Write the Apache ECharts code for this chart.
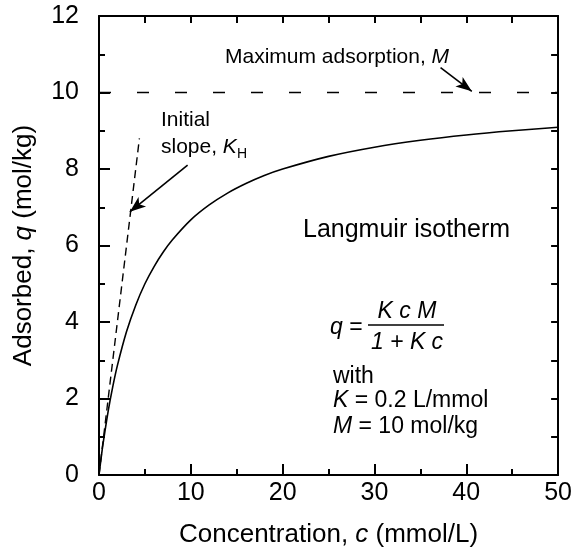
<!DOCTYPE html>
<html lang="en">
<head>
<meta charset="UTF-8">
<title>Langmuir isotherm</title>
<script src="https://cdn.jsdelivr.net/npm/echarts@6/dist/echarts.min.js"></script>
<style>
    html, body { margin: 0; padding: 0; background: #fff; }
    #chart { width: 575px; height: 553px; }
</style>
</head>
<body>
<div id="chart"></div>
<script>
    // ---- values ----
    var concList = [0, 0.25, 0.5, 1, 1.5, 2, 3, 4, 5, 6, 7, 8, 10, 12, 14, 16, 18, 20, 25, 30, 35, 40, 45, 50];
    var qList    = [0, 0.48, 0.91, 1.67, 2.31, 2.86, 3.75, 4.44, 5.0, 5.45, 5.83, 6.15, 6.67, 7.06, 7.37, 7.62, 7.83, 8.0, 8.33, 8.57, 8.75, 8.89, 9.0, 9.09];
    var maxLine   = [[0, 10], [50, 10]];        // maximum adsorption M
    var slopeLine = [[0, 0], [4.4, 8.8]];       // initial slope K_H
    var arrowMax   = [[37.2, 10.65], [40.6, 10.03]];
    var arrowSlope = [[9.65, 8.1], [3.36, 6.88]];

    var FONT = 'Liberation Sans, Arial, sans-serif';
    var chart = echarts.init(document.getElementById('chart'));

    var curve = [];
    for (var i = 0; i < concList.length; i++) curve.push([concList[i], qList[i]]);

    var blk = { color: '#000', width: 2 };
    var italic = { fontStyle: 'italic', fontFamily: FONT, fontSize: 26, color: '#000' };

    var option = {
        animation: false,
        grid: { left: 99, right: 15, top: 16, bottom: 75 },
        xAxis: [
            {
                type: 'value', position: 'bottom', min: 0, max: 50, interval: 10,
                axisLine: { onZero: false, lineStyle: blk },
                axisTick: { inside: true, length: 11, lineStyle: blk },
                minorTick: { show: true, splitNumber: 2, length: 6, lineStyle: blk },
                axisLabel: { color: '#000', fontSize: 25, fontFamily: FONT, margin: 6 },
                splitLine: { show: false },
                name: 'Concentration, {i|c} (mmol/L)', nameLocation: 'middle', nameGap: 47,
                nameTextStyle: { color: '#000', fontSize: 26, fontFamily: FONT, rich: { i: italic } }
            },
            {
                type: 'value', position: 'top', min: 0, max: 50, interval: 5,
                axisLine: { onZero: false, lineStyle: blk },
                axisTick: { inside: true, length: 7, lineStyle: blk },
                axisLabel: { show: false },
                splitLine: { show: false }
            }
        ],
        yAxis: [
            {
                type: 'value', position: 'left', min: 0, max: 12, interval: 2,
                axisLine: { onZero: false, lineStyle: blk },
                axisTick: { inside: true, length: 11, lineStyle: blk },
                minorTick: { show: true, splitNumber: 2, length: 6, lineStyle: blk },
                axisLabel: { color: '#000', fontSize: 25, fontFamily: FONT, margin: 20 },
                splitLine: { show: false },
                name: 'Adsorbed, {i|q} (mol/kg)', nameLocation: 'middle', nameGap: 62,
                nameTextStyle: { color: '#000', fontSize: 26, fontFamily: FONT, rich: { i: italic } }
            },
            {
                type: 'value', position: 'right', min: 0, max: 12, interval: 1,
                axisLine: { onZero: false, lineStyle: blk },
                axisTick: { inside: true, length: 7, lineStyle: blk },
                axisLabel: { show: false },
                splitLine: { show: false }
            }
        ],
        series: [
            {
                name: 'isotherm', type: 'line', data: curve, smooth: 0.3,
                showSymbol: false, lineStyle: { color: '#000', width: 1.6 }
            },
            {
                name: 'M', type: 'line', data: maxLine, showSymbol: false,
                lineStyle: { color: '#000', width: 1.6, type: [12, 26] }
            },
            {
                name: 'KH', type: 'line', data: slopeLine, showSymbol: false,
                lineStyle: { color: '#000', width: 1.4, type: [8, 5] }
            },
            {
                name: 'arrows', type: 'line', data: [],
                markLine: {
                    silent: true, animation: false,
                    symbol: ['none', 'arrow'], symbolSize: [9, 16],
                    label: { show: false },
                    lineStyle: { color: '#000', width: 1.6, type: 'solid' },
                    data: [
                        [{ coord: arrowMax[0] }, { coord: arrowMax[1] }],
                        [{ coord: arrowSlope[0] }, { coord: arrowSlope[1] }]
                    ]
                }
            }
        ]
    };
    chart.setOption(option);

    // ---- annotations ----
    var ctx = document.createElement('canvas').getContext('2d');
    function textW(str, size, style) {
        ctx.font = (style || '') + ' ' + size + 'px ' + FONT;
        return ctx.measureText(str).width;
    }
    function txt(str, x, y, size, align, rich) {
        return {
            type: 'text', x: x, y: y, silent: true,
            style: {
                text: str, fill: '#000', fontSize: size, fontFamily: FONT,
                align: align || 'left', verticalAlign: 'middle',
                rich: rich || {}
            }
        };
    }
    function rich(size) {
        return { i: { fontStyle: 'italic', fontSize: size, fontFamily: FONT, fill: '#000' } };
    }

    var slopeX = 161;
    var kEnd = slopeX + textW('slope, ', 21) + textW('K', 21, 'italic');

    chart.setOption({
        graphic: [
            txt('Maximum adsorption, {i|M}', 225, 57, 21, 'left', rich(21)),
            txt('Initial', slopeX, 120, 21),
            txt('slope, {i|K}', slopeX, 147, 21, 'left', rich(21)),
            txt('H', kEnd, 154, 14),
            txt('Langmuir isotherm', 303, 230, 25),
            txt('{i|q} =', 330, 328, 23, 'left', rich(23)),
            txt('{i|K c M}', 407, 312, 23, 'center', rich(23)),
            { type: 'line', silent: true, shape: { x1: 368, y1: 325, x2: 444, y2: 325 }, style: { stroke: '#000', lineWidth: 1.3 } },
            txt('{i|1 + K c}', 407, 343, 23, 'center', rich(23)),
            txt('with', 333, 377, 23),
            txt('{i|K} = 0.2 L/mmol', 333, 401, 23, 'left', rich(23)),
            txt('{i|M} = 10 mol/kg', 333, 427, 23, 'left', rich(23))
        ]
    });
</script>
</body>
</html>
